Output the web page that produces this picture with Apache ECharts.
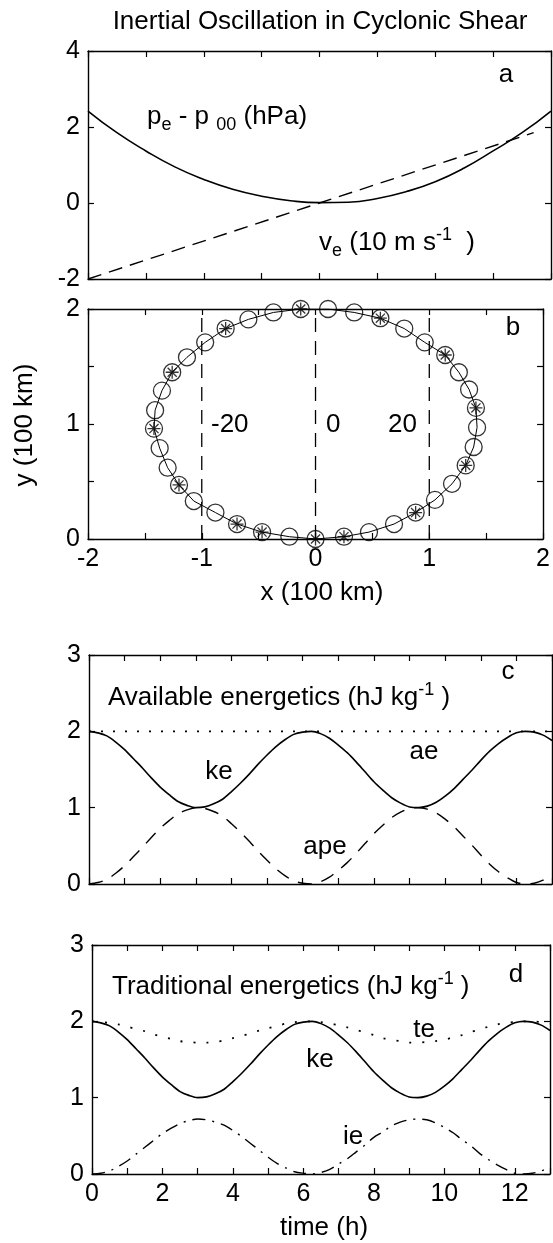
<!DOCTYPE html>
<html>
<head>
<meta charset="utf-8">
<script src="https://cdn.jsdelivr.net/npm/echarts@6/dist/echarts.min.js"></script>
<style>
html, body { margin: 0; padding: 0; background: #fff; }
#chart { width: 553px; height: 1243px; }
</style>
</head>
<body>
<div id="chart"></div>
<script>
var FONT = '"Liberation Sans", Arial, Helvetica, sans-serif';

// panel a : pressure deviation and v_e across the shear zone
var aX  = [-2, -1.75, -1.5, -1.25, -1, -0.75, -0.5, -0.25, 0, 0.25, 0.5, 0.75, 1, 1.25, 1.5, 1.75, 2];
var aPe = [2.42, 1.85, 1.37, 0.95, 0.62, 0.36, 0.18, 0.06, 0.01, 0.02, 0.12, 0.30, 0.56, 0.92, 1.37, 1.85, 2.42];
var aVeX = [-2, 1.85];
var aVe  = [-2, 1.85];

// panel b : parcel track (x, y in 100 km), 1 = marker with asterisk
var bX = [-0.13, 0.11, 0.34, 0.57, 0.78, 0.96, 1.14, 1.26, 1.35, 1.41, 1.42, 1.39, 1.32, 1.20, 1.05, 0.88, 0.69, 0.47, 0.25, 0.00,
          -0.23, -0.47, -0.69, -0.88, -1.07, -1.20, -1.30, -1.37, -1.42, -1.41, -1.35, -1.26, -1.13, -0.97, -0.79, -0.59, -0.37];
var bY = [2.00, 2.00, 1.97, 1.92, 1.83, 1.71, 1.60, 1.45, 1.30, 1.14, 0.97, 0.80, 0.64, 0.48, 0.34, 0.23, 0.13, 0.06, 0.02, 0.00,
          0.02, 0.06, 0.13, 0.23, 0.33, 0.47, 0.62, 0.79, 0.96, 1.12, 1.29, 1.45, 1.58, 1.71, 1.83, 1.91, 1.97];
var bStar = [1, 0, 0, 1, 0, 0, 1, 0, 0, 1, 0, 0, 1, 0, 0, 1, 0, 0, 1, 1,
             0, 1, 1, 0, 0, 1, 0, 0, 1, 0, 0, 1, 0, 0, 1, 0, 0];
var bGuideX = [-1, 0, 1];
var bGuideY = [0, 2];

// panels c, d : energetics against time (h)
var tHour = [0, 0.25, 0.5, 0.75, 1, 1.25, 1.5, 1.75, 2, 2.25, 2.5, 2.75, 3, 3.25, 3.5, 3.75, 4, 4.25, 4.5, 4.75, 5, 5.25, 5.5, 5.75, 6, 6.25,
             6.5, 6.75, 7, 7.25, 7.5, 7.75, 8, 8.25, 8.5, 8.75, 9, 9.25, 9.5, 9.75, 10, 10.25, 10.5, 10.75, 11, 11.25, 11.5, 11.75, 12, 12.25, 12.5, 12.75, 13];
var ke  = [2.00, 1.98, 1.94, 1.86, 1.76, 1.64, 1.52, 1.39, 1.27, 1.17, 1.08, 1.03, 1.00, 1.01, 1.05, 1.11, 1.21, 1.32, 1.44, 1.57, 1.69, 1.80, 1.89, 1.96, 1.99, 2.00,
           1.97, 1.91, 1.82, 1.72, 1.60, 1.47, 1.34, 1.23, 1.13, 1.06, 1.01, 1.00, 1.02, 1.07, 1.15, 1.25, 1.37, 1.49, 1.62, 1.74, 1.84, 1.92, 1.98, 2.00, 1.99, 1.95, 1.88];
var ape = [0.00, 0.02, 0.06, 0.14, 0.24, 0.36, 0.48, 0.61, 0.73, 0.83, 0.92, 0.97, 1.00, 0.99, 0.95, 0.89, 0.79, 0.68, 0.56, 0.43, 0.31, 0.20, 0.11, 0.04, 0.01, 0.00,
           0.03, 0.09, 0.18, 0.28, 0.40, 0.53, 0.66, 0.77, 0.87, 0.94, 0.99, 1.00, 0.98, 0.93, 0.85, 0.75, 0.63, 0.51, 0.38, 0.26, 0.16, 0.08, 0.02, 0.00, 0.01, 0.05, 0.12];
var aeT = [0, 13];
var ae  = [2.0, 2.0];
var te  = [2.00, 1.99, 1.98, 1.96, 1.93, 1.90, 1.87, 1.83, 1.80, 1.77, 1.74, 1.73, 1.72, 1.72, 1.73, 1.75, 1.78, 1.81, 1.84, 1.88, 1.91, 1.94, 1.97, 1.99, 2.00, 2.00,
           1.99, 1.97, 1.95, 1.92, 1.89, 1.85, 1.82, 1.78, 1.76, 1.74, 1.72, 1.72, 1.73, 1.74, 1.76, 1.79, 1.82, 1.86, 1.89, 1.93, 1.96, 1.98, 1.99, 2.00, 2.00, 1.99, 1.97];
var ie  = [0.00, 0.01, 0.04, 0.10, 0.17, 0.26, 0.35, 0.44, 0.53, 0.60, 0.66, 0.70, 0.72, 0.71, 0.68, 0.64, 0.57, 0.49, 0.40, 0.31, 0.22, 0.14, 0.08, 0.03, 0.01, 0.00,
           0.02, 0.06, 0.13, 0.20, 0.29, 0.38, 0.48, 0.55, 0.63, 0.68, 0.71, 0.72, 0.71, 0.67, 0.61, 0.54, 0.45, 0.37, 0.27, 0.19, 0.12, 0.06, 0.01, 0.00, 0.01, 0.04, 0.09];

function zip(xs, ys) {
    return xs.map(function (x, i) { return [x, ys[i]]; });
}

var intOnly = function (v) { return Math.abs(v - Math.round(v)) < 1e-9 ? String(Math.round(v)) : ''; };
var evenOnly = function (v) { return Math.round(v) % 2 === 0 ? String(v) : ''; };
var plain = function (v) { return String(v); };

function axis(grid, pos, min, max, step, fmt) {
    return {
        type: 'value', gridIndex: grid, position: pos,
        min: min, max: max, interval: step,
        axisLine: { show: true, onZero: false, lineStyle: { color: '#000', width: 1.4 } },
        axisTick: { show: true, inside: true, length: 6, lineStyle: { color: '#000', width: 1.2 } },
        axisLabel: fmt ? { show: true, color: '#000', fontSize: 25, fontFamily: FONT, margin: 8, formatter: fmt } : { show: false },
        splitLine: { show: false }
    };
}

function curve(p, data, width, dash, smooth) {
    return {
        type: 'line', xAxisIndex: 2 * p, yAxisIndex: 2 * p, data: data,
        symbol: 'none', smooth: smooth, silent: true,
        lineStyle: { color: '#000', width: width, type: dash || 'solid' }
    };
}

// text helpers
var rich = {
    n:   { fontSize: 26, fontFamily: FONT, lineHeight: 34, fill: '#000' },
    sub: { fontSize: 18, fontFamily: FONT, lineHeight: 9, verticalAlign: 'bottom', fill: '#000' },
    sup: { fontSize: 18, fontFamily: FONT, lineHeight: 24, verticalAlign: 'top', fill: '#000' }
};
function txt(s, x, y, align, rot) {
    return {
        type: 'text', x: x, y: y, rotation: rot || 0, silent: true,
        style: { text: s, fontSize: 26, fontFamily: FONT, fill: '#000',
                 textAlign: align || 'center', textVerticalAlign: 'middle' }
    };
}
function richTxt(s, x, y) {
    return {
        type: 'text', x: x, y: y, silent: true,
        style: { text: s, rich: rich, fontSize: 26, fontFamily: FONT, fill: '#000',
                 textAlign: 'left', textVerticalAlign: 'middle' }
    };
}

var track = zip(bX, bY);
var trackLoop = track.concat([track[0]]);
var starPts = track.filter(function (d, i) { return bStar[i] === 1; });

var series = [
    // a
    curve(0, zip(aX, aPe), 1.6, null, true),
    curve(0, zip(aVeX, aVe), 1.4, [14, 8], false),
    // b
    curve(1, trackLoop, 1, null, false),
    {
        type: 'scatter', xAxisIndex: 2, yAxisIndex: 2, data: track, silent: true, clip: false,
        symbol: 'circle', symbolSize: 17,
        itemStyle: { color: 'rgba(0,0,0,0)', borderColor: '#000', borderWidth: 1.3 }
    },
    {
        type: 'scatter', xAxisIndex: 2, yAxisIndex: 2, data: starPts, silent: true, clip: false,
        symbol: 'path://M0,-10L0,10M-10,0L10,0M-7,-7L7,7M-7,7L7,-7', symbolSize: 13,
        itemStyle: { color: 'none', borderColor: '#000', borderWidth: 1.3 }
    },
    // c
    curve(2, zip(tHour, ke), 1.6, null, 0.3),
    curve(2, zip(tHour, ape), 1.4, [14, 10], 0.3),
    curve(2, zip(aeT, ae), 1.8, [2, 10], false),
    // d
    curve(3, zip(tHour, ke), 1.6, null, 0.3),
    curve(3, zip(tHour, te), 1.8, [2, 11], 0.3),
    curve(3, zip(tHour, ie), 1.4, [13, 7, 2, 7], 0.3)
];
bGuideX.forEach(function (gx) {
    series.push(curve(1, [[gx, bGuideY[0]], [gx, bGuideY[1]]], 1.3, [14, 9], false));
});

var myChart = echarts.init(document.getElementById('chart'));

var option = {
    animation: false,
    backgroundColor: '#fff',
    grid: [
        { left: 88, top: 51, width: 463, height: 228 },
        { left: 88, top: 309, width: 461, height: 230 },
        { left: 89, top: 655, width: 463, height: 229 },
        { left: 92, top: 945, width: 461, height: 229 }
    ],
    xAxis: [
        axis(0, 'bottom', -2, 2, 0.5, null), axis(0, 'top', -2, 2, 0.5, null),
        axis(1, 'bottom', -2, 2, 0.5, intOnly), axis(1, 'top', -2, 2, 0.5, null),
        axis(2, 'bottom', 0, 13, 1, null), axis(2, 'top', 0, 13, 1, null),
        axis(3, 'bottom', 0, 13, 1, evenOnly), axis(3, 'top', 0, 13, 1, null)
    ],
    yAxis: [
        axis(0, 'left', -2, 4, 2, plain), axis(0, 'right', -2, 4, 2, null),
        axis(1, 'left', 0, 2, 0.5, intOnly), axis(1, 'right', 0, 2, 0.5, null),
        axis(2, 'left', 0, 3, 1, plain), axis(2, 'right', 0, 3, 1, null),
        axis(3, 'left', 0, 3, 1, plain), axis(3, 'right', 0, 3, 1, null)
    ],
    series: series,
    graphic: [
        txt('Inertial Oscillation in Cyclonic Shear', 320, 22),
        // a
        txt('a', 506, 75),
        richTxt('{n|p}{sub|e}{n| - p }{sub|00}{n| (hPa)}', 147, 117),
        richTxt('{n|v}{sub|e}{n| (10 m s}{sup|-1}{n|  )}', 319, 243),
        // b
        txt('b', 513, 328),
        txt('-20', 211, 425, 'left'),
        txt('0', 326, 425, 'left'),
        txt('20', 388, 425, 'left'),
        txt('x (100 km)', 322, 593),
        txt('y (100 km)', 25, 425, 'center', Math.PI / 2),
        // c
        txt('c', 508, 672),
        richTxt('{n|Available energetics (hJ kg}{sup|-1}{n| )}', 108, 698),
        txt('ke', 219, 772),
        txt('ae', 424, 752),
        txt('ape', 325, 847),
        // d
        txt('d', 516, 975),
        richTxt('{n|Traditional energetics (hJ kg}{sup|-1}{n| )}', 112, 987),
        txt('te', 424, 1030),
        txt('ke', 320, 1060),
        txt('ie', 353, 1137),
        txt('time (h)', 324, 1228)
    ]
};

myChart.setOption(option);
</script>
</body>
</html>
